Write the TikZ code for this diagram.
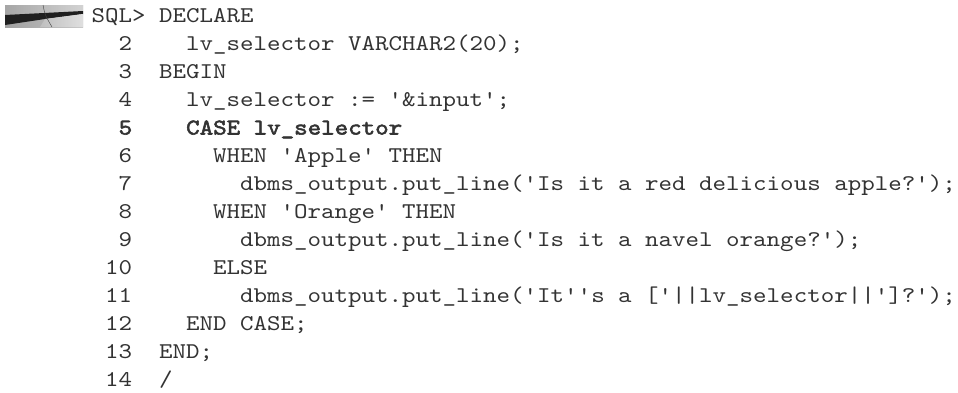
\documentclass[tikz,border=0pt]{standalone}
\usepackage{fontspec}
\setmonofont[FakeStretch=1.143, BoldFont=lmmono10-regular.otf, BoldFeatures={FakeBold=2.5}]{lmmono10-regular.otf}
\usepackage{tikz}
\usetikzlibrary{positioning}

\tikzset{
    codetext/.style={inner sep=0pt, outer sep=0pt, text=black!80,
        font=\ttfamily\fontsize{22.5}{27}\selectfont},
    lineno/.style={codetext, anchor=base east},
    codeline/.style={codetext, anchor=base west},
    boldline/.style={codeline, font=\ttfamily\bfseries\fontsize{22.5}{27}\selectfont}
}

\begin{document}
\begin{tikzpicture}[x=13.5pt, y=-28pt]
        \useasboundingbox (0pt,0pt) rectangle (958pt,-392pt);

        % Small grey picture in the corner
        \begin{scope}[x=1pt, y=-1pt]
            \shade[left color=gray!75, right color=gray!45] (5,5) rectangle (83,27);
            \shade[left color=gray!70, right color=gray!35] (5,5) -- (83,5) -- (83,11) -- (5,15) -- cycle;
            \fill[black!88] (5,15) -- (83,11) -- (83,14) -- (45,19) -- (5,25) -- cycle;
            \shade[left color=gray!50, right color=gray!25] (45,19) -- (83,14) -- (83,27) -- (40,27) -- cycle;
            \draw[black!75, thin] (43,5) .. controls (45,15) .. (52,27);
        \end{scope}

        \begin{scope}[shift={(91.7pt,-22.5pt)}]
            % Prompt line
            \node[codeline] (prompt) at (0,0) {SQL> DECLARE};

            % Line numbers
            \node[lineno] (n2) at (3,1) {2};
            \node[lineno] (n3) at (3,2) {3};
            \node[lineno] (n4) at (3,3) {4};
            \node[lineno, font=\ttfamily\bfseries\fontsize{22.5}{27}\selectfont] (n5) at (3,4) {5};
            \node[lineno] (n6) at (3,5) {6};
            \node[lineno] (n7) at (3,6) {7};
            \node[lineno] (n8) at (3,7) {8};
            \node[lineno] (n9) at (3,8) {9};
            \node[lineno] (n10) at (3,9) {10};
            \node[lineno] (n11) at (3,10) {11};
            \node[lineno] (n12) at (3,11) {12};
            \node[lineno] (n13) at (3,12) {13};
            \node[lineno] (n14) at (3,13) {14};

            % Code lines
            \node[codeline] (c2) at (7,1) {lv\_selector VARCHAR2(20);};
            \node[codeline] (c3) at (5,2) {BEGIN};
            \node[codeline] (c4) at (7,3) {lv\_selector := '\&input';};
            \node[boldline] (c5) at (7,4) {CASE lv\_selector};
            \node[codeline] (c6) at (9,5) {WHEN 'Apple' THEN};
            \node[codeline] (c7) at (11,6) {dbms\_output.put\_line('Is it a red delicious apple?');};
            \node[codeline] (c8) at (9,7) {WHEN 'Orange' THEN};
            \node[codeline] (c9) at (11,8) {dbms\_output.put\_line('Is it a navel orange?');};
            \node[codeline] (c10) at (9,9) {ELSE};
            \node[codeline] (c11) at (11,10) {dbms\_output.put\_line('It''s a ['|{}|lv\_selector|{}|']?');};
            \node[codeline] (c12) at (7,11) {END CASE;};
            \node[codeline] (c13) at (5,12) {END;};
            \node[codeline] (c14) at (5,13) {/};
        \end{scope}

    \end{tikzpicture}
\end{document}
